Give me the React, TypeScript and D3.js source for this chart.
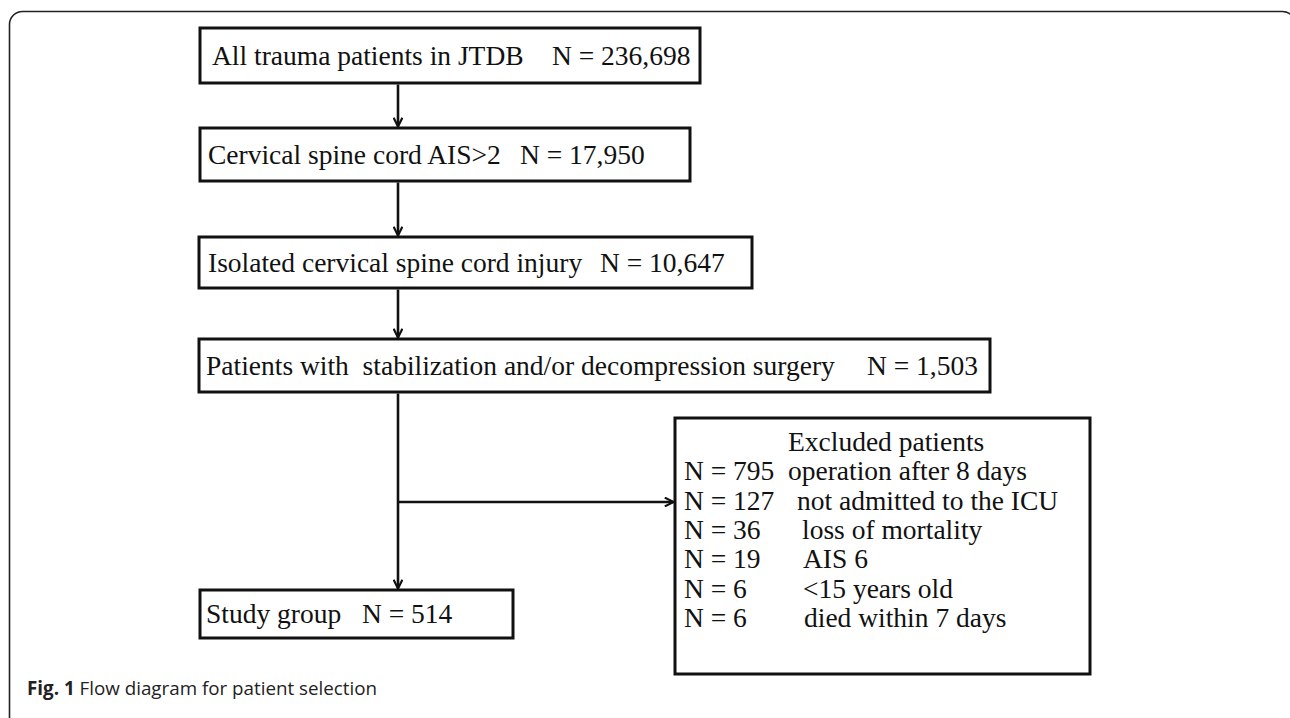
import * as d3 from "d3";

const W = 1290;
const H = 718;

// flow steps, top to bottom
const stepLabels = [
  "All trauma patients in JTDB",
  "Cervical spine cord AIS>2",
  "Isolated cervical spine cord injury",
  "Patients with  stabilization and/or decompression surgery",
];
const stepCounts = ["236,698", "17,950", "10,647", "1,503"];

const finalLabel = "Study group";
const finalCount = "514";

const excludedTitle = "Excluded patients";
const excludedCounts = ["795", "127", "36", "19", "6", "6"];
const excludedReasons = [
  "operation after 8 days",
  "not admitted to the ICU",
  "loss of mortality",
  "AIS 6",
  "<15 years old",
  "died within 7 days",
];

// box geometry (layout only): label x, count x
const stepBoxes = [
  { x: 200, y: 28, w: 500, h: 55, lx: 212, nx: 552 },
  { x: 200, y: 128, w: 490, h: 53, lx: 208, nx: 520 },
  { x: 199, y: 237, w: 553, h: 51, lx: 208, nx: 600 },
  { x: 199, y: 339, w: 791, h: 53, lx: 206, nx: 867 },
];
const finalBox = { x: 200, y: 590, w: 313, h: 48, lx: 206, nx: 362 };
const exclBox = { x: 675, y: 418, w: 415, h: 256 };
const reasonX = [788, 797, 802, 803, 803, 804];

const SPINE_X = 398;
const BRANCH_Y = 502;
const SERIF = "'Liberation Serif', 'Times New Roman', serif";
const FS = 27.5;

export default function App() {
  const rowY = d3
    .scaleLinear()
    .domain([0, excludedCounts.length])
    .range([exclBox.y + 33, exclBox.y + 33 + 29.3 * excludedCounts.length]);

  const txt = (x: number, y: number, s: string, k?: string) => (
    <text
      key={k}
      x={x}
      y={y}
      fontFamily={SERIF}
      fontSize={FS}
      fill="#111"
      style={{ whiteSpace: "pre" }}
    >
      {s}
    </text>
  );

  const arrow = (x1: number, y1: number, x2: number, y2: number, k: string) => (
    <line
      key={k}
      x1={x1}
      y1={y1}
      x2={x2}
      y2={y2}
      stroke="#111"
      strokeWidth={2.6}
      markerEnd="url(#head)"
    />
  );

  const box = (b: { x: number; y: number; w: number; h: number }) => (
    <rect
      x={b.x}
      y={b.y}
      width={b.w}
      height={b.h}
      fill="#fff"
      stroke="#111"
      strokeWidth={3}
    />
  );

  return (
    <svg
      width={W}
      height={H}
      style={{ position: "absolute", left: 0, top: 0, background: "#fff" }}
    >
      <defs>
        <marker
          id="head"
          viewBox="0 0 10 10"
          refX={9}
          refY={5}
          markerWidth={4.2}
          markerHeight={4.2}
          orient="auto"
          markerUnits="strokeWidth"
        >
          <path d="M1,1 L9,5 L1,9" fill="none" stroke="#111" strokeWidth={2} />
        </marker>
      </defs>

      {/* outer frame, right and bottom run off the page */}
      <rect
        x={9.5}
        y={11.5}
        width={1286}
        height={760}
        rx={13}
        fill="none"
        stroke="#222"
        strokeWidth={1.6}
      />

      {/* step boxes */}
      {stepBoxes.map((b, i) => (
        <g key={`s-${i}`}>
          {box(b)}
          {txt(b.lx, b.y + b.h / 2 + 9, stepLabels[i])}
          {txt(b.nx, b.y + b.h / 2 + 9, `N = ${stepCounts[i]}`)}
        </g>
      ))}

      {/* arrows between steps */}
      {stepBoxes.slice(0, -1).map((b, i) =>
        arrow(SPINE_X, b.y + b.h + 1.5, SPINE_X, stepBoxes[i + 1].y - 1.5, `a-${i}`)
      )}
      {arrow(
        SPINE_X,
        stepBoxes[3].y + stepBoxes[3].h + 1.5,
        SPINE_X,
        finalBox.y - 1.5,
        "a-final"
      )}
      {arrow(SPINE_X, BRANCH_Y, exclBox.x - 1.5, BRANCH_Y, "a-excl")}

      {/* final box */}
      {box(finalBox)}
      {txt(finalBox.lx, finalBox.y + finalBox.h / 2 + 9, finalLabel)}
      {txt(finalBox.nx, finalBox.y + finalBox.h / 2 + 9, `N = ${finalCount}`)}

      {/* exclusion box */}
      {box(exclBox)}
      {txt(788, rowY(0), excludedTitle)}
      {excludedCounts.map((n, i) => (
        <g key={`e-${i}`}>
          {txt(exclBox.x + 9, rowY(i + 1), `N = ${n}`)}
          {txt(reasonX[i], rowY(i + 1), excludedReasons[i])}
        </g>
      ))}

      {/* caption */}
      <text
        x={27}
        y={695}
        fontFamily="'Open Sans', 'Noto Sans', sans-serif"
        fontSize={18.8}
        fill="#222"
      >
        <tspan fontWeight={700}>Fig. 1</tspan>
        <tspan> Flow diagram for patient selection</tspan>
      </text>
    </svg>
  );
}
